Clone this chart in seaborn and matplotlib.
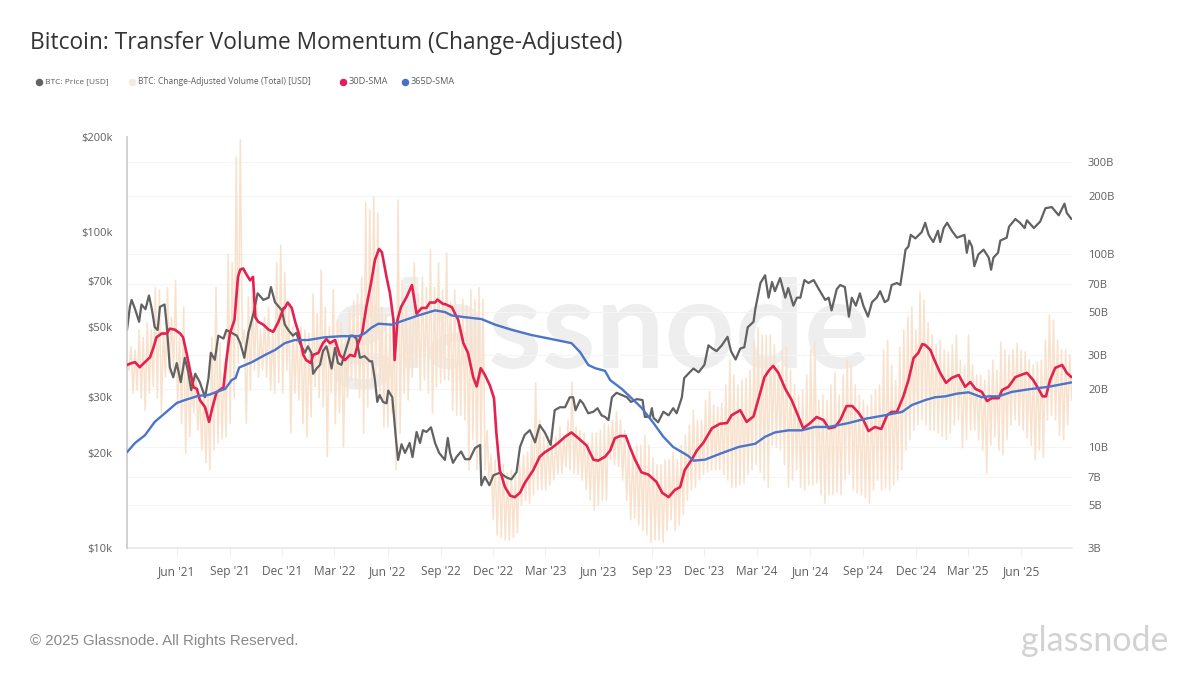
import numpy as np
import pandas as pd
import matplotlib
matplotlib.use("Agg")
import matplotlib.pyplot as plt
import seaborn as sns

TITLE = "Bitcoin: Transfer Volume Momentum (Change-Adjusted)"
FOOTER = "\u00a9 2025 Glassnode. All Rights Reserved."
BRAND = "glassnode"
START = pd.Timestamp("2021-03-07")
END = pd.Timestamp("2025-08-28")
LEGEND_LABELS = ["BTC: Price [USD]", "BTC: Change-Adjusted Volume (Total) [USD]", "30D-SMA", "365D-SMA"]
X_TICK_DATES = ["2021-06-01", "2021-09-01", "2021-12-01", "2022-03-01", "2022-06-01", "2022-09-01",
                "2022-12-01", "2023-03-01", "2023-06-01", "2023-09-01", "2023-12-01", "2024-03-01",
                "2024-06-01", "2024-09-01", "2024-12-01", "2025-03-01", "2025-06-01"]
X_TICK_LABELS = ["Jun '21", "Sep '21", "Dec '21", "Mar '22", "Jun '22", "Sep '22", "Dec '22", "Mar '23",
                 "Jun '23", "Sep '23", "Dec '23", "Mar '24", "Jun '24", "Sep '24", "Dec '24", "Mar '25", "Jun '25"]
PRICE_TICKS = [10, 20, 30, 50, 70, 100, 200]
PRICE_TICK_LABELS = ["$10k", "$20k", "$30k", "$50k", "$70k", "$100k", "$200k"]
VOL_TICKS = [3, 5, 7, 10, 20, 30, 50, 70, 100, 200, 300]
VOL_TICK_LABELS = ["3B", "5B", "7B", "10B", "20B", "30B", "50B", "70B", "100B", "200B", "300B"]

# BTC price, $k, at days since START
price_day = [0,5,8,14,21,25,32,38,43,48,53,57,65,69,74,80,86,93,100,106,111,118,126,135,141,145,152,158,167,172,181,190,196,203,210,219,226,236,245,249,256,268,
             273,279,287,293,299,308,313,319,322,328,334,339,345,348,354,360,365,371,377,386,391,397,403,411,420,424,429,433,437,443,449,452,459,465,469,475,481,489,494,501,507,512,518,526,533,540,
             550,555,559,564,570,578,585,593,602,611,613,619,627,634,645,657,665,674,680,688,697,706,714,723,733,740,749,758,766,772,776,784,789,798,807,814,821,
             827,833,839,847,856,865,872,882,892,896,905,908,911,919,928,937,945,951,960,964,971,980,989,999,1006,1013,1020,1029,1039,1045,1053,1061,1068,1074,1084,1087,1091,1096,1104,
             1110,1116,1121,1130,1139,1144,1153,1159,1165,1172,1179,1188,1199,1208,1214,1219,1228,1234,1242,1249,1254,1261,1268,1274,1282,1289,1297,1303,1311,1317,1323,1332,1338,1342,1347,1352,1356,1364,1375,
             1381,1387,1395,1403,1407,1413,1419,1427,1436,1449,1453,1457,1462,1466,1473,1482,1491,1495,1499,1507,1511,1522,1526,1537,1545,1553,1557,1569,1580,1589,1600,1612,1622,1626,1634]
price_k = [49,58,61,57,52,59,57,63,57,50,49,58,59,50,37.4,34.7,38.5,33.5,40,36,31.6,35.6,33.5,30,34.5,41.5,39.4,47,46,49,48,47,44.5,40,48,55.5,64,61,62,67,60,56.5,
           51,49,47,48,44.5,41.5,43.5,41.5,35.6,37,38,42,43.5,41.5,37,43,38.5,38,41.5,47,47,46,40,40.5,39,39,34,29,30.5,29,28.7,31.5,30,22.5,19,21.3,20,21.5,19.4,23.3,21.5,23.6,23.3,24.1,21.5,20,
           19,22.3,20,18.6,19.4,20.2,19.1,19.1,20.7,21.2,15.8,16.8,15.8,17,17.3,16.7,16.5,17.4,20.9,22.8,23.6,21.6,24.5,23.2,21.2,27.3,27.9,27.9,30,30,27.3,29.4,28.7,26.7,27,27.7,26.3,
           26,25.4,30,31,30.5,30,29,29.6,29.4,26,26,27.7,25.8,25,27,26.3,27.7,26.7,30,34.5,35.6,37,36,38,43.8,42.8,42,43.8,46.6,42,39.5,42.8,43.2,50,52,57,62,69,73,
           62,69.5,65,71.5,62,66.5,58.5,62,62,70.5,69,70.5,65,61,62,56.5,66,68,67,54,62,58.5,64,58.5,54,60,62,65,60,61,68,69,68,76,88,90,98,95.5,100,
           107,98,93,101,93,103,107,101,96,98,86,94,90,78,85,88,83,76,83,86,94,96,104,110,107,103,109,103,108,119,120,113,123,115,110]

# 30D-SMA, $B
sma30_day = [0,8,14,22,31,40,46,51,60,69,74,83,92,97,103,109,115,121,126,135,142,148,155,167,172,178,186,192,196,201,207,213,218,222,227,236,245,253,262,271,
             273,278,285,291,297,305,310,318,322,331,339,345,351,360,368,377,386,394,400,407,414,422,429,436,441,449,455,461,463,468,474,484,493,501,510,518,524,533,537,547,
             550,562,573,582,590,599,605,612,619,628,635,639,645,654,663,671,680,688,703,714,723,735,746,758,769,781,795,807,815,
             827,836,844,853,863,870,879,890,902,916,926,937,948,957,965,977,986,997,1012,1026,1038,1046,1061,1072,1084,1092,1103,
             1111,1118,1127,1139,1150,1162,1170,1182,1193,1205,1214,1225,1234,1245,1255,1266,1274,1283,1294,1305,1315,1323,1332,1343,1352,1361,1369,1376,
             1381,1390,1397,1407,1417,1427,1439,1450,1459,1468,1479,1488,1496,1508,1514,1525,1537,1548,1557,1568,1577,1584,1590,1597,1606,1618,1626,1634]
sma30_b = [26.6,27.2,27.5,25.9,27.5,29.2,32.9,37,38.7,38.7,41,40.5,38.7,37,30.7,25,20.4,20,17.5,16.1,13.5,16.1,19.2,20.4,28.2,38.7,45.5,76,83,84,78,73,76,47,44.5,43,40.5,39.5,44.5,52.5,
           52.5,56,52.5,44.5,39,30,28.2,27.2,30,30.7,34.5,36.2,34.5,35.8,30,28.2,30,29.5,34.5,39,53,70,93,106,102,76,62.5,45.5,28.2,45.5,53,60,69,49,52.5,52.5,56,56,58,55,
           55,53,45.5,34.5,30.7,23,20.6,25.6,23.7,20.8,17.9,11.9,7.6,6.2,5.6,5.5,5.8,6.5,7.6,8.9,9.4,9.9,10.5,11.3,11.9,11.1,10.2,8.6,8.5,
           8.9,9.6,11.1,11.4,11.4,10,8.6,7.4,7.2,6.6,5.8,5.5,6,6.2,7.6,8.6,9.6,10.5,12.5,13.2,13.3,14.6,15.5,13.5,14.4,17.5,23,
           25,26.3,24.2,20,17.5,14.3,12.5,13.3,14.3,13.8,12.5,12.7,13.8,16.3,16.3,15,13.8,12.1,12.7,12.4,14.6,15.2,15.2,18.2,22.2,28.9,30.7,34.1,
           33.8,31.8,28.2,24.2,21.5,22.8,23.6,20.5,21.7,20,19.3,17.3,17.9,17.9,19.7,20.5,23,23.7,24.2,22.2,20,18.3,18.3,22.2,25.7,26.6,24.2,23]

# 365D-SMA, $B
sma365_day = [0,14,31,48,66,86,100,123,141,155,170,181,188,194,216,239,256,273,290,313,342,371,400,411,423,435,458,472,504,533,
              550,562,585,613,637,665,700,735,769,784,798,810,827,836,856,873,890,911,928,945,971,980,1000,1029,1058,1087,
              1104,1121,1144,1167,1190,1214,1248,1277,1306,1341,1358,1381,1398,1416,1436,1456,1479,1491,1508,1531,1560,1594,1634]
sma365_b = [9.4,10.5,11.5,13.5,15,16.9,17.5,18.4,18.6,19.3,20,22.2,22.8,25.8,27.5,30,31.8,34.5,35.8,35.8,37,37.5,37.5,38.7,41.5,43.5,43,44.5,48,51,
            50,48,47,46,43,40.5,38,36.2,34.5,31,26.6,25.6,24.8,22.2,20,17.9,16,13.3,11.3,10,9,8.5,8.6,9.3,10,10.4,
            11.3,11.9,12.2,12.2,12.7,12.7,13.3,14,14.5,15.2,16.5,17.5,18.1,18.3,18.9,19.2,18.1,18.3,18.3,19.3,19.9,20.5,21.6]

# Change-adjusted volume, $B: weekly peak and trough
vol_peak_b = [28.2,33,31.8,40.4,37,44,40.4,67,65,40.4,67,47,73,37,53,30.7,23,24.2,19,19.7,19,37,67,34.5,27.2,99,90,318,389,40.4,60,60,60,40.4,47,53,40.4,90,111,80,
              53,42,39,42,40.4,39,62,49,82.6,53,42,65,45.5,44,35.8,51,57,62,76,184,169,197,163,53,49,44,45.5,190,73,53,45.5,90,62,76,67,105,67,90,65,101,
              56.5,65,51,58,54,65,58,67,58,
              12.2,9.1,8.6,8.9,8.1,7.3,7.6,7.3,8.4,9.1,9.4,10.9,21.5,13.8,11.3,11.3,10.5,11.3,12.7,11.5,13.8,21.7,12.7,12.2,11.8,10.5,11.8,11.8,12.2,13.2,
              13,13.8,15.2,13.8,12.2,10.2,9.65,10.2,10.2,11.5,10.2,8.8,8.1,8.1,8.6,8.6,9.4,8.6,10.2,11.5,13,15.5,13.8,13.8,17.5,19.3,16.5,16.1,16.9,21,28.2,23.6,21,22.2,22.7,25,35.8,41.5,38,38,
              38,33.8,26.6,31.8,32.9,25,21,18.6,19.7,23.6,31.8,35,17.5,18.6,17.5,21,24.2,18.6,23.6,28.2,26.6,21,18.6,17.5,16.5,18.6,19.7,21,31.8,35.8,26.6,22.2,32.9,40.4,47,53,40.4,63.5,57.8,
              44,38,33.8,35.8,31.8,31,33.8,38,28.2,26.6,38,26.6,23.6,23.6,22.2,25,28.2,25,35,31.8,30,31.8,34.5,31.8,31,28.2,26.6,27.5,28.2,35.8,48.3,45.5,35.8,31.8,31.8,30]
vol_trough_b = [25,19,19.7,18,15.5,19,20.5,18,15,23,24.2,25,16.1,13.2,9.3,11.3,15,12.2,9.65,8.3,7.6,9.65,10.5,11,11.3,13.2,18,27.2,34.5,13.2,19.7,25,23,25,23,19.7,19,21.5,19,25,
                11.8,19,17.5,13.2,11.3,14.3,20.5,18,16.1,8.9,19,13.2,15,10,18,22.2,20.5,18,11.8,16.1,20.5,22.2,19,12.7,12.7,15,7.6,11.8,19,17.5,23,26,19.7,22.2,19,15,20.5,21.5,22.2,22.2,
                15.5,14.6,14.6,13.8,7.6,10.9,7.6,9.65,7.6,
                6.75,4.2,3.5,3.4,3.3,3.3,3.4,3.6,5,5.3,5.1,5.65,6,6,6,6.35,6.75,7.2,7.3,7.9,7.6,7.3,7.2,6.75,6,5.3,4.7,5,5.3,5.3,
                8.6,8.1,7.9,6.75,5.3,4.2,4.3,3.95,3.7,3.5,3.2,3.3,3.3,3.2,3.7,4.2,3.7,3.95,4.45,5.3,6,6.2,6.75,7.2,7.4,7.6,7.6,7.6,7.2,6.75,6.2,6.2,6.35,6.5,7.2,7.6,8.1,7.4,6.75,6.2,
                10.2,10,9.65,8.1,6.2,6.75,7.6,6.2,6,6.35,6.35,6.5,5.65,5.1,5.65,5.65,5.85,5.65,6.75,7.2,6,5.8,5.65,5.45,5.1,6,6.75,6,6.1,6,6.35,6.75,7.6,9.65,10.9,12.2,13,13.8,13,
                12.2,12.2,11.8,11.3,10.9,11.8,13,13.8,9.9,10.9,12.2,12.2,10.9,9.65,7.3,10.2,11.3,9.65,9.1,10.9,13,13.8,13,12.2,11.1,10.2,8.6,9.65,8.8,13.8,14.6,13.8,11.5,10.9,13,17.5]

COL_PRICE = "#626262"
COL_VOL = "#f9e2cd"
COL_RED = "#e4214f"
COL_BLUE = "#4b74cb"
COL_TEXT = "#5f5f5f"
COL_GRID = "#f5f5f5"


def to_dates(days):
    return START + pd.to_timedelta(np.asarray(days, dtype=float), unit="D")


sns.set_theme(style="white")
plt.rcParams["font.family"] = ["Open Sans", "DejaVu Sans"]

W, H = 1200, 675
fig = plt.figure(figsize=(W / 100, H / 100), dpi=100, facecolor="white")
rect = [127 / W, 1 - 548 / H, (1072 - 127) / W, (548 - 137) / H]

ax_vol = fig.add_axes(rect, zorder=1)
ax_vol.patch.set_alpha(0)
ax_price = ax_vol.twinx()
ax_price.set_zorder(2)
ax_sma = ax_vol.twinx()
ax_sma.set_zorder(3)
for a in (ax_price, ax_sma):
    a.patch.set_alpha(0)

# central watermark sits behind every axes
fig.text(600 / W, 1 - 368 / H, BRAND, fontsize=88, color="#eeeeee", family="Lato", fontweight="bold",
         ha="center", va="baseline", zorder=0)

# volume: peak/trough pairs
n = min(len(vol_peak_b), len(vol_trough_b))
vol_days = np.ravel(np.column_stack([np.arange(n) * 7.0, np.arange(n) * 7.0 + 3.5]))
vol_vals = np.ravel(np.column_stack([vol_peak_b[:n], vol_trough_b[:n]]))
sns.lineplot(x=to_dates(vol_days), y=vol_vals, ax=ax_vol, color=COL_VOL, lw=1.15,
             estimator=None, errorbar=None, sort=False, legend=False)
sns.lineplot(x=to_dates(price_day), y=price_k, ax=ax_price, color=COL_PRICE, lw=1.6,
             estimator=None, errorbar=None, sort=False, legend=False)
sns.lineplot(x=to_dates(sma30_day), y=sma30_b, ax=ax_sma, color=COL_RED, lw=1.9,
             estimator=None, errorbar=None, sort=False, legend=False)
sns.lineplot(x=to_dates(sma365_day), y=sma365_b, ax=ax_sma, color=COL_BLUE, lw=1.7,
             estimator=None, errorbar=None, sort=False, legend=False)

for a in (ax_vol, ax_sma):
    a.set_yscale("log")
    a.set_ylim(3, 403)
ax_price.set_yscale("log")
ax_price.set_ylim(10, 200)
for a in (ax_vol, ax_price, ax_sma):
    a.set_xlim(START, END)
    a.set_xlabel("")
    a.set_ylabel("")
    a.minorticks_off()
    a.yaxis.set_minor_locator(matplotlib.ticker.NullLocator())
    for s in a.spines.values():
        s.set_visible(False)

ax_sma.set_yticks([])
ax_sma.tick_params(axis="x", bottom=False, labelbottom=False)
ax_price.tick_params(axis="x", bottom=False, labelbottom=False)

# right axis: volume
ax_vol.yaxis.tick_right()
ax_vol.set_yticks(VOL_TICKS, VOL_TICK_LABELS)
ax_vol.tick_params(axis="y", length=0, pad=11.5, labelsize=8, labelcolor=COL_TEXT,
                   right=False, labelright=True, left=False, labelleft=False)
ax_vol.grid(True, axis="y", color=COL_GRID, lw=0.8)
ax_vol.set_axisbelow(True)

# left axis: price
ax_price.yaxis.tick_left()
ax_price.set_yticks(PRICE_TICKS, PRICE_TICK_LABELS)
ax_price.tick_params(axis="y", length=0, pad=10.5, labelsize=8, labelcolor=COL_TEXT,
                     left=False, labelleft=True, right=False, labelright=False)
ax_price.spines["left"].set_visible(True)
ax_price.spines["left"].set_color("#c9c9c9")
ax_price.spines["left"].set_linewidth(1.2)

# x axis
ax_vol.set_xticks(pd.to_datetime(X_TICK_DATES), X_TICK_LABELS)
ax_vol.tick_params(axis="x", length=6, width=0.8, color="#eeeeee", pad=6, labelsize=8.6,
                   labelcolor=COL_TEXT, bottom=True)
ax_vol.spines["bottom"].set_visible(True)
ax_vol.spines["bottom"].set_color("#e9e9e9")

# title, legend and footer
fig.text(30 / W, 1 - 43 / H, TITLE, fontsize=16.4, color="#333333", ha="left", va="center")

legend_cols = [COL_PRICE, "#f6eadc", "#e01f5c", "#4b6fc9"]
legend_marker_x = [39, 132, 343, 405]
legend_text_x = [45, 138, 349, 411]
legend_sizes = [6.05, 6.15, 6.7, 6.6]
for label, col, mx, tx, fs in zip(LEGEND_LABELS, legend_cols, legend_marker_x, legend_text_x, legend_sizes):
    fig.add_artist(plt.Line2D([mx / W], [1 - 82 / H], marker="o", ms=4.4, color=col, lw=0,
                              transform=fig.transFigure))
    fig.text(tx / W, 1 - 82 / H, label, fontsize=fs, color=COL_TEXT, ha="left", va="center")

fig.text(30 / W, 1 - 640.5 / H, FOOTER, fontsize=10.8, color="#8a8a8a", family="Liberation Sans",
         ha="left", va="center")
fig.text(1168 / W, 1 - 651 / H, BRAND, fontsize=24.5, color="#d2d2d2", family="Lato",
         ha="right", va="baseline")

fig.savefig("out.png", dpi=100, facecolor="white")
